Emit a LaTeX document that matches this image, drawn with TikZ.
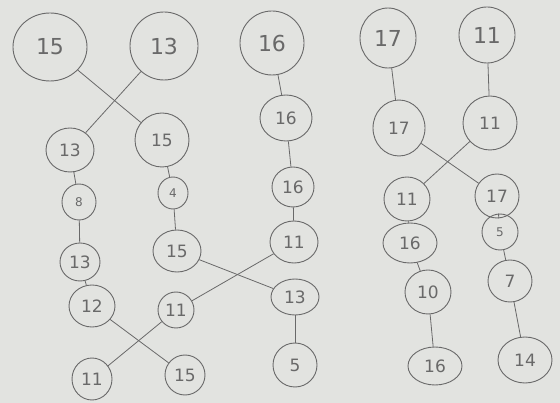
\documentclass[tikz,border=0pt]{standalone}
\usepackage{fontspec}
\setsansfont{DejaVu Sans}
\usetikzlibrary{shapes.geometric}
\definecolor{bg}{RGB}{226,227,224}
\definecolor{pen}{RGB}{105,105,105}
\tikzset{
  nd/.style={ellipse, draw=pen, line width=0.9pt, inner sep=0pt, text=pen,
             font=\sffamily\fontsize{17}{17}\selectfont},
  big/.style={font=\sffamily\fontsize{22}{22}\selectfont},
  small/.style={font=\sffamily\fontsize{12}{12}\selectfont},
  ln/.style={draw=pen, line width=0.8pt}
}
\newcommand{\sz}[2]{minimum width=#1pt, minimum height=#2pt}
\begin{document}
\begin{tikzpicture}[x=1pt,y=-1pt]
\fill[bg] (0,0) rectangle (560,403);
\useasboundingbox (0,0) rectangle (560,403);
% left group
\node[nd,big,minimum width=74pt,minimum height=68pt] (a) at (50,47) {15};
\node[nd,big,minimum width=68pt,minimum height=68pt] (b) at (164,46) {13};
\node[nd,minimum width=48pt,minimum height=44pt] (c) at (70,150) {13};
\node[nd,minimum width=54pt,minimum height=54pt] (d) at (162,140) {15};
\node[nd,small,minimum width=34pt,minimum height=36pt] (e) at (79,202) {8};
\node[nd,small,minimum width=30pt,minimum height=32pt] (f) at (173,193) {4};
\node[nd,minimum width=40pt,minimum height=38pt] (g) at (80,262) {13};
\node[nd,minimum width=48pt,minimum height=42pt] (h) at (177,251) {15};
\node[nd,minimum width=46pt,minimum height=42pt] (i) at (92,306) {12};
\node[nd,minimum width=36pt,minimum height=36pt] (j) at (176,310) {11};
\node[nd,minimum width=40pt,minimum height=42pt] (k) at (92,379) {11};
\node[nd,minimum width=40pt,minimum height=40pt] (l) at (185,375) {15};
% middle group
\node[nd,big,minimum width=64pt,minimum height=64pt] (m) at (272,43) {16};
\node[nd,minimum width=52pt,minimum height=46pt] (n) at (286,118) {16};
\node[nd,minimum width=42pt,minimum height=40pt] (o) at (293,187) {16};
\node[nd,minimum width=48pt,minimum height=42pt] (p) at (294,242) {11};
\node[nd,minimum width=48pt,minimum height=36pt] (q) at (295,297) {13};
\node[nd,minimum width=44pt,minimum height=44pt] (r) at (295,365) {5};
% right group
\node[nd,big,minimum width=56pt,minimum height=60pt] (s) at (388,38) {17};
\node[nd,big,minimum width=56pt,minimum height=56pt] (t) at (487,35) {11};
\node[nd,minimum width=52pt,minimum height=56pt] (u) at (399,128) {17};
\node[nd,minimum width=54pt,minimum height=54pt] (v) at (490,123) {11};
\node[nd,minimum width=46pt,minimum height=44pt] (w) at (407,199) {11};
\node[nd,minimum width=44pt,minimum height=44pt] (x) at (497,196) {17};
\node[nd,minimum width=54pt,minimum height=40pt] (y) at (410,243) {16};
\node[nd,small,minimum width=36pt,minimum height=36pt] (z) at (500,232) {5};
\node[nd,minimum width=46pt,minimum height=44pt] (aa) at (428,292) {10};
\node[nd,minimum width=44pt,minimum height=42pt] (ab) at (510,281) {7};
\node[nd,minimum width=54pt,minimum height=38pt] (ac) at (435,366) {16};
\node[nd,minimum width=54pt,minimum height=46pt] (ad) at (525,360) {14};
% connectors
\draw[ln] (a) -- (d);
\draw[ln] (b) -- (c);
\draw[ln] (c) -- (e);
\draw[ln] (e) -- (g);
\draw[ln] (g) -- (i);
\draw[ln] (d) -- (f);
\draw[ln] (f) -- (h);
\draw[ln] (h) -- (q);
\draw[ln] (p) -- (j);
\draw[ln] (i) -- (l);
\draw[ln] (j) -- (k);
\draw[ln] (m) -- (n);
\draw[ln] (n) -- (o);
\draw[ln] (o) -- (p);
\draw[ln] (q) -- (r);
\draw[ln] (s) -- (u);
\draw[ln] (t) -- (v);
\draw[ln] (u) -- (x);
\draw[ln] (v) -- (w);
\draw[ln] (w) -- (y);
\draw[ln] (y) -- (aa);
\draw[ln] (aa) -- (ac);
\draw[ln] (x) -- (z);
\draw[ln] (z) -- (ab);
\draw[ln] (ab) -- (ad);
\end{tikzpicture}
\end{document}
